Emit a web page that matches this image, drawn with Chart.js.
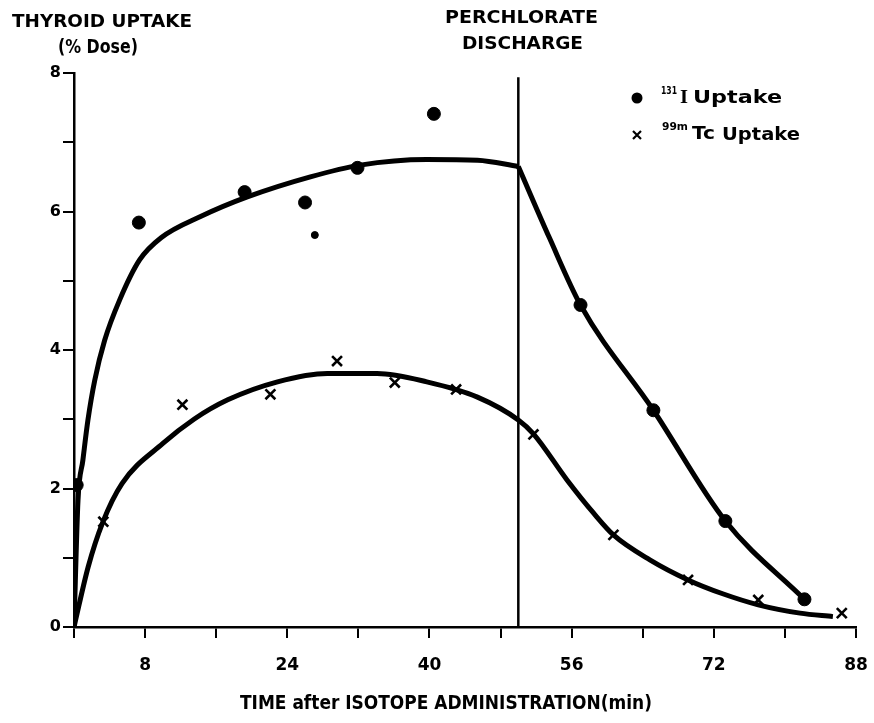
<!DOCTYPE html>
<html>
<head>
<meta charset="utf-8">
<script src="https://cdn.jsdelivr.net/npm/chart.js@4"></script>
<style>
  html, body { margin: 0; padding: 0; background: #fff; }
</style>
</head>
<body>
<canvas id="uptakeChart" width="874" height="723"></canvas>
<script>
// measured points (min, % dose)
const iodineTimes = [0.3, 7.3, 19.2, 26.0, 31.9, 40.5, 57.0, 65.2, 73.3, 82.2];
const iodineUptake = [2.05, 5.84, 6.28, 6.13, 6.63, 7.41, 4.65, 3.13, 1.53, 0.40];
const strayTimes = [27.1];
const strayUptake = [5.66];
const techTimes = [3.3, 12.2, 22.1, 29.6, 36.1, 43.0, 51.7, 60.7, 69.1, 77.0, 86.4];
const techUptake = [1.52, 3.21, 3.36, 3.84, 3.53, 3.43, 2.78, 1.33, 0.68, 0.39, 0.20];

// hand drawn fit curves
const iodineRiseTimes = [0, 0.45, 1.0, 1.57, 2.33, 3.45, 5.13, 7.38, 9.8, 14.3, 19.5, 26.6, 32.2, 39.7, 45.4, 50];
const iodineRiseValues = [0, 1.83, 2.41, 2.99, 3.56, 4.14, 4.72, 5.30, 5.62, 5.93, 6.21, 6.50, 6.67, 6.75, 6.74, 6.65];
const iodineFallTimes = [50, 53.5, 57, 65.2, 73.3, 82.2];
const iodineFallValues = [6.65, 5.62, 4.65, 3.13, 1.53, 0.40];
const techCurveTimes = [0, 1.6, 3.2, 5.4, 10, 13.5, 17.3, 22.9, 28.5, 34.1, 39.7, 45.4, 50, 51.7, 55.5, 58.5, 60.7, 64.8, 69.1, 73, 77, 81.7, 85.4];
const techCurveValues = [0, 0.87, 1.5, 2.07, 2.65, 3.0, 3.28, 3.54, 3.66, 3.66, 3.54, 3.32, 2.99, 2.79, 2.12, 1.64, 1.33, 0.97, 0.68, 0.48, 0.32, 0.20, 0.15];

const perchlorateTime = 50;
const xTickLabels = [8, 24, 40, 56, 72, 88];
const yTickLabels = [0, 2, 4, 6, 8];

const pairs = (xs, ys) => xs.map((x, i) => ({ x: x, y: ys[i] }));
const FONT = '"DejaVu Sans", sans-serif';

// draws text squeezed/stretched to a given width
function fitText(ctx, text, left, midY, width, size, family) {
  ctx.save();
  ctx.font = 'bold ' + size + 'px ' + (family || FONT);
  ctx.textBaseline = 'middle';
  ctx.textAlign = 'left';
  const w = ctx.measureText(text).width;
  ctx.translate(left, midY);
  ctx.scale(width / w, 1);
  ctx.fillText(text, 0, 0);
  ctx.restore();
}

const annotations = {
  id: 'annotations',
  afterDraw(chart) {
    const ctx = chart.ctx;
    ctx.fillStyle = '#000';
    fitText(ctx, 'THYROID UPTAKE', 12, 22, 180, 18);
    fitText(ctx, '(% Dose)', 58, 48, 80, 19);
    fitText(ctx, 'PERCHLORATE', 445, 19, 153, 17);
    fitText(ctx, 'DISCHARGE', 462, 45, 121, 17);
    fitText(ctx, 'TIME after ISOTOPE ADMINISTRATION(min)', 240, 704, 412, 19);

    // legend
    ctx.beginPath();
    ctx.arc(637, 98, 5.5, 0, Math.PI * 2);
    ctx.fill();
    fitText(ctx, '131', 661, 91, 16, 11);
    fitText(ctx, 'I', 680, 98, 8, 19, '"Liberation Serif", serif');
    fitText(ctx, 'Uptake', 693, 99, 89, 17);

    ctx.save();
    ctx.strokeStyle = '#000';
    ctx.lineWidth = 2.2;
    ctx.beginPath();
    ctx.moveTo(633, 131); ctx.lineTo(641, 139);
    ctx.moveTo(641, 131); ctx.lineTo(633, 139);
    ctx.stroke();
    ctx.restore();
    fitText(ctx, '99m', 662, 127, 26, 11);
    fitText(ctx, 'Tc', 692, 135, 23, 17);
    fitText(ctx, 'Uptake', 722, 136, 78, 17);
  }
};

const curveStyle = {
  showLine: true,
  pointRadius: 0,
  borderColor: '#000',
  borderWidth: 5,
  cubicInterpolationMode: 'monotone',
  order: 1,
};

const ctx = document.getElementById('uptakeChart').getContext('2d');
new Chart(ctx, {
  type: 'scatter',
  data: {
    datasets: [
      {
        label: '131I Uptake',
        data: pairs(iodineTimes, iodineUptake),
        pointStyle: 'circle',
        pointRadius: 6.5,
        backgroundColor: '#000',
        borderColor: '#000',
        order: 0,
      },
      {
        label: 'stray',
        data: pairs(strayTimes, strayUptake),
        pointStyle: 'circle',
        pointRadius: 3.5,
        backgroundColor: '#000',
        borderColor: '#000',
        order: 0,
      },
      {
        label: '99mTc Uptake',
        data: pairs(techTimes, techUptake),
        pointStyle: 'crossRot',
        pointRadius: 7,
        borderWidth: 2.6,
        borderColor: '#000',
        order: 0,
      },
      { label: 'iodine rise', data: pairs(iodineRiseTimes, iodineRiseValues), ...curveStyle },
      { label: 'iodine fall', data: pairs(iodineFallTimes, iodineFallValues), ...curveStyle },
      { label: 'tc curve', data: pairs(techCurveTimes, techCurveValues), ...curveStyle },
      {
        label: 'perchlorate',
        data: [{ x: perchlorateTime, y: 0 }, { x: perchlorateTime, y: 7.94 }],
        showLine: true,
        pointRadius: 0,
        borderColor: '#000',
        borderWidth: 2.5,
        order: 1,
      },
    ],
  },
  options: {
    responsive: false,
    animation: false,
    layout: { padding: { top: 73, right: 18, left: 0, bottom: 0 } },
    plugins: {
      legend: { display: false },
      tooltip: { enabled: false },
    },
    scales: {
      x: {
        type: 'linear',
        min: 0,
        max: 88,
        afterFit: (s) => {
          s.height = 96;
          s.paddingLeft = 0;
          s.paddingRight = 0;
        },
        afterBuildTicks: (s) => {
          s.ticks = [];
          for (let v = 0; v <= 88; v += 8) s.ticks.push({ value: v });
        },
        ticks: {
          autoSkip: false,
          maxRotation: 0,
          padding: 17,
          color: '#000',
          font: { family: FONT, weight: 'bold', size: 17 },
          callback: (v) => (xTickLabels.includes(v) ? v : ''),
        },
        grid: { drawOnChartArea: false, tickLength: 11, color: '#000', lineWidth: 2 },
        border: { color: '#000', width: 2.5 },
      },
      y: {
        min: 0,
        max: 8,
        afterFit: (s) => {
          s.width = 74;
          s.paddingTop = 0;
          s.paddingBottom = 0;
        },
        afterBuildTicks: (s) => {
          s.ticks = [];
          for (let v = 0; v <= 8; v += 1) s.ticks.push({ value: v });
        },
        ticks: {
          autoSkip: false,
          padding: 2,
          color: '#000',
          font: { family: FONT, weight: 'bold', size: 16 },
          callback: (v) => (yTickLabels.includes(v) ? v : ''),
        },
        grid: { drawOnChartArea: false, tickLength: 11, color: '#000', lineWidth: 2 },
        border: { color: '#000', width: 2.5 },
      },
    },
  },
  plugins: [annotations],
});
</script>
</body>
</html>
